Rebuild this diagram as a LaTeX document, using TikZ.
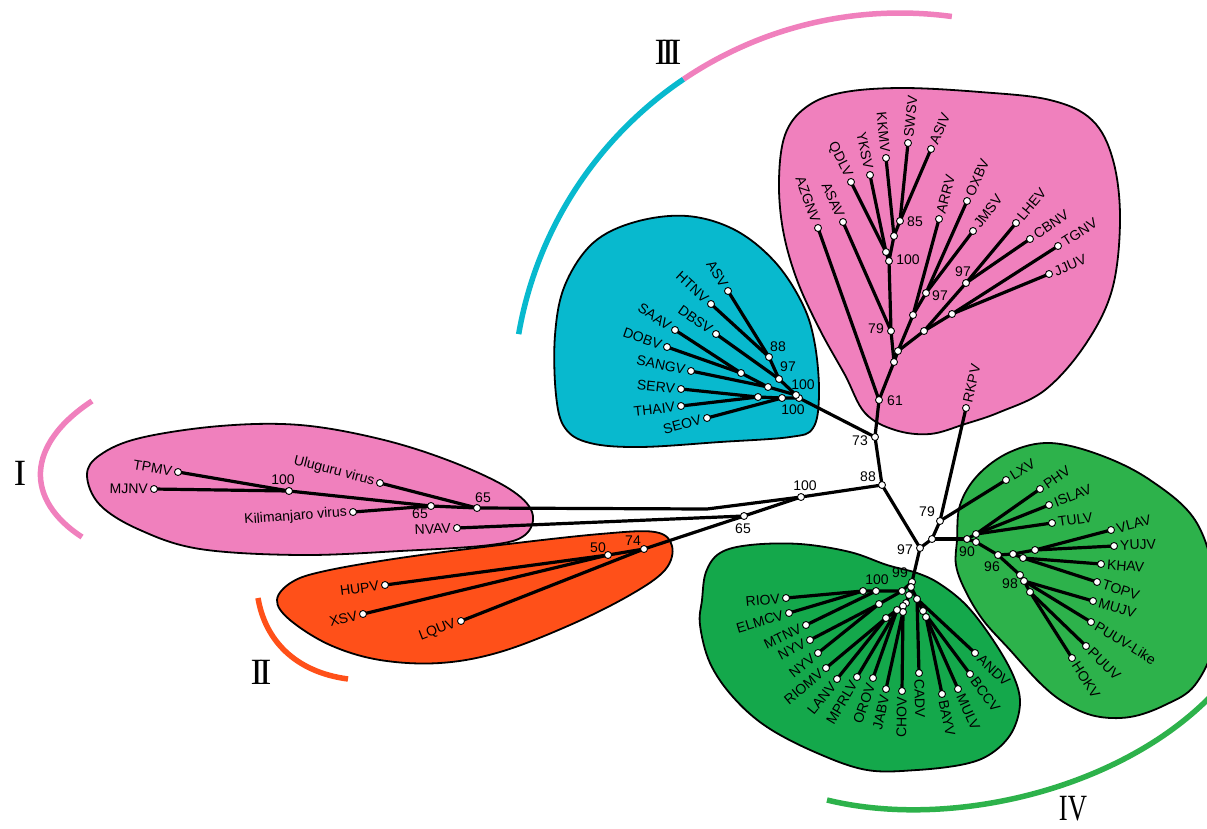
\documentclass[tikz,border=0pt]{standalone}
\usepackage{fontspec}
\usepackage{graphicx}
\newfontfamily\labfont{Liberation Sans}
\newfontfamily\romfont{Liberation Serif}
\definecolor{pinkC}{RGB}{240,128,189}
\definecolor{cyanC}{RGB}{8,185,206}
\definecolor{orangeC}{RGB}{255,80,25}
\definecolor{greenB}{RGB}{20,168,75}
\definecolor{greenR}{RGB}{45,178,75}
\tikzset{
  br/.style={line width=3.2pt, line cap=round, line join=round, black},
  blob/.style={draw=black, line width=1.8pt},
  dotst/.style={fill=white, draw=black, line width=0.9pt},
  lbl/.style={font=\labfont\fontsize{14}{16}\selectfont, inner xsep=6pt, inner ysep=0pt},
  bs/.style={font=\labfont\fontsize{14}{16}\selectfont, inner sep=0pt},
  rom/.style={font=\romfont\fontsize{37}{40}\selectfont, inner sep=0pt},
  arcst/.style={line width=5.5pt}
}
\newcommand\leafnode[4]{%
  \coordinate (#2) at (#3);
  \draw[br] (#1) -- (#2);
  \pgfmathanglebetweenpoints{\pgfpointanchor{#1}{center}}{\pgfpointanchor{#2}{center}}%
  \let\la\pgfmathresult
  \pgfmathtruncatemacro\lflip{cos(\la)<0}%
  \ifnum\lflip=1 \pgfmathsetmacro\lrot{\la+180}\def\lanc{east}\else \let\lrot\la\def\lanc{west}\fi
  \node[lbl, rotate=\lrot, anchor=\lanc] (t-#2) at (#2) {#4};
  \filldraw[dotst] (#2) circle[radius=3.5];
}
\begin{document}
\begin{tikzpicture}[x=1pt,y=-1pt]
\useasboundingbox (0,0) rectangle (1207,828);

% ---- clade blobs ----
\draw[blob, fill=pinkC] plot[smooth cycle, tension=0.6] coordinates {(87,475) (100,455) (140,438) (220,426) (300,425) (380,439) (450,461) (508,488) (532,512) (525,535) (490,545) (400,551) (300,555) (200,549) (140,530) (100,505)};
\draw[blob, fill=orangeC] plot[smooth cycle, tension=0.6] coordinates {(277,600) (292,582) (325,571) (400,558) (500,545) (600,534) (655,532) (672,546) (665,570) (630,595) (570,625) (500,652) (440,663) (380,660) (330,645) (290,620)};
\draw[blob, fill=cyanC] plot[smooth cycle, tension=0.6] coordinates {(555,335) (565,285) (593,243) (635,222) (687,216) (735,230) (775,262) (803,305) (815,345) (819,395) (813,428) (790,437) (720,442) (640,447) (590,443) (565,428) (556,395)};
\draw[blob, fill=pinkC] plot[smooth cycle, tension=0.6] coordinates {(779,180) (785,135) (805,108) (840,93) (900,88) (980,92) (1050,100) (1092,120) (1113,160) (1120,220) (1112,290) (1085,345) (1045,390) (1000,412) (965,424) (930,434) (895,430) (865,413) (845,375) (820,330) (797,280) (783,230)};
\draw[blob, fill=greenB] plot[smooth cycle, tension=0.6] coordinates {(702,600) (706,572) (720,553) (750,545) (800,544) (850,552) (887,565) (917,573) (940,584) (967,606) (993,640) (1013,675) (1020,703) (1012,732) (992,753) (965,764) (917,770) (867,770) (817,753) (767,727) (733,697) (710,663) (700,625)};
\draw[blob, fill=greenR] plot[smooth cycle, tension=0.6] coordinates {(957,540) (960,505) (978,475) (1010,452) (1050,443) (1100,455) (1150,480) (1195,520) (1215,580) (1215,640) (1195,685) (1165,705) (1130,717) (1095,716) (1065,703) (1040,683) (1010,650) (983,620) (965,590) (956,565)};

% ---- group arcs and numerals ----
\draw[arcst, pinkC] (92,401) .. controls (25,445) and (25,500) .. (82,537);
\draw[arcst, orangeC] (258,598) .. controls (265,640) and (295,672) .. (348,679);
\draw[arcst, cyanC] (900,400) ++(189.8:387) arc[start angle=189.8, end angle=236, radius=387];
\draw[arcst, pinkC] (900,400) ++(236:387) arc[start angle=236, end angle=277.7, radius=387];
\draw[arcst, greenR] (827,800) .. controls (950,830) and (1120,790) .. (1212,695);
\node[rom] (rI) at (20,473) {I};
\node[rom] (rII) at (261,672) {I\kern-4pt I};
\node[rom] (rIII) at (668,52) {I\kern-5pt I\kern-5pt I};
\node[rom] (rIV) at (1073,809) {\scalebox{0.72}[1]{IV}};

% ---- internal nodes ----
\coordinate (c88) at (882,485);
\coordinate (c73) at (875,437);
\coordinate (c61) at (879,400);
\coordinate (c97) at (920,548);
\coordinate (cJ) at (932,539);
\coordinate (c79) at (940,521);
\coordinate (c100) at (801,497);
\coordinate (cK) at (707,509);
\coordinate (c65) at (744,516);
% III
\coordinate (iiiA) at (894,362);
\coordinate (iiiB) at (898,351);
\coordinate (iii79) at (891,331);
\coordinate (iii100) at (889,261);
\coordinate (iiiQ) at (886,252);
\coordinate (iiiK) at (894,236);
\coordinate (iii85) at (900,221);
\coordinate (iiiC) at (913,315);
\coordinate (iii97a) at (926,293);
\coordinate (iiiD) at (924,331);
\coordinate (iiiE) at (952,314);
\coordinate (iii97b) at (966,283);
% cyan
\coordinate (cyR) at (799,398);
\coordinate (cy100a) at (796,395);
\coordinate (cy97) at (779,379);
\coordinate (cy88) at (769,357);
\coordinate (cyM) at (768,387);
\coordinate (cyN) at (741,373);
\coordinate (cy100b) at (782,398);
\coordinate (cyS) at (758,397);
% I
\coordinate (iR) at (477,508);
\coordinate (i65) at (431,506);
\coordinate (i100) at (289,491);
% II
\coordinate (ii74) at (644,549);
\coordinate (ii50) at (608,555);
% right green
\coordinate (g90) at (967,539);
\coordinate (gA) at (976,534);
\coordinate (gB) at (976,542);
\coordinate (g96) at (998,555);
\coordinate (gC) at (1013,554);
\coordinate (gD) at (1035,550);
\coordinate (gE) at (1023,558);
\coordinate (g98) at (1020,575);
\coordinate (gF) at (1024,581);
\coordinate (gG) at (1030,592);
% bottom green
\coordinate (b99) at (912,582);
\coordinate (bP1) at (902,591);
\coordinate (bP2) at (876,591);
\coordinate (bP3) at (863,591);
\coordinate (bQ) at (879,604);
\coordinate (bR1) at (911,587);
\coordinate (bR2) at (909,595);
\coordinate (bR3) at (906,603);
\coordinate (bR4) at (903,606);
\coordinate (bR5) at (903,612);
\coordinate (bS) at (897,610);
\coordinate (bT) at (886,618);
\coordinate (bU) at (917,599);
\coordinate (bV) at (923,611);
\coordinate (bW) at (926,617);

% ---- internal branches ----
\draw[br] (c61) -- (c73) -- (c88) -- (c100) -- (cK) -- (iR);
\draw[br] (c73) -- (cyR);
\draw[br] (c100) -- (c65) -- (ii74);
\draw[br] (c88) -- (c97) -- (cJ) -- (c79);
\draw[br] (cJ) -- (g90);
\draw[br] (c97) -- (b99);
\draw[br] (c61) -- (iiiA) -- (iii79) -- (iii100) -- (iiiQ);
\draw[br] (iii100) -- (iiiK) -- (iii85);
\draw[br] (iiiA) -- (iiiB) -- (iiiC) -- (iii97a);
\draw[br] (iiiB) -- (iiiD) -- (iii97b);
\draw[br] (iiiD) -- (iiiE);
\draw[br] (cyR) -- (cy100a) -- (cy97) -- (cy88);
\draw[br] (cy100a) -- (cyM) -- (cyN);
\draw[br] (cyR) -- (cy100b) -- (cyS);
\draw[br] (iR) -- (i65) -- (i100);
\draw[br] (ii74) -- (ii50);
\draw[br] (g90) -- (gA);
\draw[br] (g90) -- (gB) -- (g96) -- (gC) -- (gD);
\draw[br] (gC) -- (gE);
\draw[br] (g96) -- (g98) -- (gF) -- (gG);
\draw[br] (b99) -- (bP1) -- (bP2) -- (bP3);
\draw[br] (bP1) -- (bQ);
\draw[br] (b99) -- (bR1) -- (bR2) -- (bR3) -- (bR4) -- (bR5);
\draw[br] (bR4) -- (bS) -- (bT);
\draw[br] (bR1) -- (bU) -- (bV) -- (bW);

% ---- leaves ----
% III
\leafnode{c61}{AZGNV}{818,228}{AZGNV}
\leafnode{iii79}{ASAV}{843,222}{ASAV}
\leafnode{iiiQ}{QDLV}{851,182}{QDLV}
\leafnode{iiiQ}{YKSV}{870,175}{YKSV}
\leafnode{iiiK}{KKMV}{886,158}{KKMV}
\leafnode{iii85}{SWSV}{908,143}{SWSV}
\leafnode{iii85}{ASIV}{931,149}{ASIV}
\leafnode{iiiC}{ARRV}{939,219}{ARRV}
\leafnode{iii97a}{OXBV}{967,201}{OXBV}
\leafnode{iii97a}{JMSV}{973,231}{JMSV}
\leafnode{iii97b}{LHEV}{1016,223}{LHEV}
\leafnode{iii97b}{CBNV}{1030,239}{CBNV}
\leafnode{iiiE}{TGNV}{1058,246}{TGNV}
\leafnode{iiiE}{JJUV}{1049,274}{JJUV}
% cyan
\leafnode{cy88}{ASV}{728,291}{ASV}
\leafnode{cy88}{HTNV}{711,304}{HTNV}
\leafnode{cy97}{DBSV}{716,334}{DBSV}
\leafnode{cyN}{SAAV}{675,330}{SAAV}
\leafnode{cyN}{DOBV}{667,347}{DOBV}
\leafnode{cyM}{SANGV}{691,371}{SANGV}
\leafnode{cyS}{SERV}{681,389}{SERV}
\leafnode{cyS}{THAIV}{681,406}{THAIV}
\leafnode{cy100b}{SEOV}{707,418}{SEOV}
% I
\leafnode{i100}{TPMV}{178,472}{TPMV}
\leafnode{i100}{MJNV}{154,489}{MJNV}
\leafnode{iR}{ULUV}{380,483}{Uluguru virus}
\leafnode{i65}{KILV}{353,512}{Kilimanjaro virus}
\leafnode{c65}{NVAV}{457,528}{NVAV}
% II
\leafnode{ii50}{HUPV}{385,585}{HUPV}
\leafnode{ii50}{XSV}{363,614}{XSV}
\leafnode{ii74}{LQUV}{461,621}{LQUV}
% RKPV and right green
\leafnode{c79}{RKPV}{966,408}{RKPV}
\leafnode{c79}{LXV}{1006,480}{LXV}
\leafnode{gA}{PHV}{1040,489}{PHV}
\leafnode{gA}{ISLAV}{1049,505}{ISLAV}
\leafnode{gA}{TULV}{1052,523}{TULV}
\leafnode{gD}{VLAV}{1111,530}{VLAV}
\leafnode{gD}{YUJV}{1114,546}{YUJV}
\leafnode{gE}{KHAV}{1101,564}{KHAV}
\leafnode{gE}{TOPV}{1097,582}{TOPV}
\leafnode{gF}{MUJV}{1093,601}{MUJV}
\leafnode{gF}{PUUVL}{1091,622}{PUUV-Like}
\leafnode{gG}{PUUV}{1086,646}{PUUV}
\leafnode{gG}{HOKV}{1072,658}{HOKV}
% bottom green
\leafnode{bP3}{RIOV}{786,598}{RIOV}
\leafnode{bP3}{ELMCV}{789,613}{ELMCV}
\leafnode{bP2}{MTNV}{806,625}{MTNV}
\leafnode{bQ}{NYVa}{810,640}{NYV}
\leafnode{bQ}{NYVb}{818,653}{NYV}
\leafnode{bT}{RIOMV}{826,668}{RIOMV}
\leafnode{bT}{LANV}{837,679}{LANV}
\leafnode{bS}{MPRLV}{857,677}{MPRLV}
\leafnode{bS}{OROV}{873,678}{OROV}
\leafnode{bR5}{JABV}{886,689}{JABV}
\leafnode{bR5}{CHOV}{902,691}{CHOV}
\leafnode{bU}{CADV}{919,673}{CADV}
\leafnode{bU}{ANDV}{975,653}{ANDV}
\leafnode{bV}{BCCV}{970,674}{BCCV}
\leafnode{bW}{BAYV}{942,694}{BAYV}
\leafnode{bW}{MULV}{958,689}{MULV}

% ---- internal dots ----
\foreach \n in {c88,c73,c61,c97,cJ,c79,c100,c65,
  iiiA,iiiB,iii79,iii100,iiiQ,iiiK,iii85,iiiC,iii97a,iiiD,iiiE,iii97b,
  cyR,cy100a,cy97,cy88,cyM,cyN,cy100b,cyS,
  iR,i65,i100,ii74,ii50,
  g90,gA,gB,g96,gC,gD,gE,g98,gF,gG,
  b99,bP1,bP2,bP3,bQ,bR1,bR2,bR3,bR4,bR5,bS,bT,bU,bV,bW}
  \filldraw[dotst] (\n) circle[radius=3.5];

% ---- bootstrap values ----
\node[bs] (v61) at (895,401) {61};
\node[bs] (v79c) at (876,329) {79};
\node[bs] (v100c) at (908,260) {100};
\node[bs] (v85) at (915,222) {85};
\node[bs] (v97c) at (940,296) {97};
\node[bs] (v97d) at (963,272) {97};
\node[bs] (v88a) at (778,347) {88};
\node[bs] (v97a) at (788,367) {97};
\node[bs] (v100a) at (803,385) {100};
\node[bs] (v100b) at (793,410) {100};
\node[bs] (v73) at (860,441) {73};
\node[bs] (v88) at (868,477) {88};
\node[bs] (v100) at (805,486) {100};
\node[bs] (v65) at (743,529) {65};
\node[bs] (v97) at (905,550) {97};
\node[bs] (v79) at (927,512) {79};
\node[bs] (v90) at (967,552) {90};
\node[bs] (v96) at (992,567) {96};
\node[bs] (v98) at (1010,584) {98};
\node[bs] (v100g) at (877,580) {100};
\node[bs] (v99) at (900,573) {99};
\node[bs] (v100i) at (283,480) {100};
\node[bs] (v65i) at (420,514) {65};
\node[bs] (v65j) at (483,498) {65};
\node[bs] (v74) at (633,541) {74};
\node[bs] (v50) at (598,548) {50};
\end{tikzpicture}
\end{document}
